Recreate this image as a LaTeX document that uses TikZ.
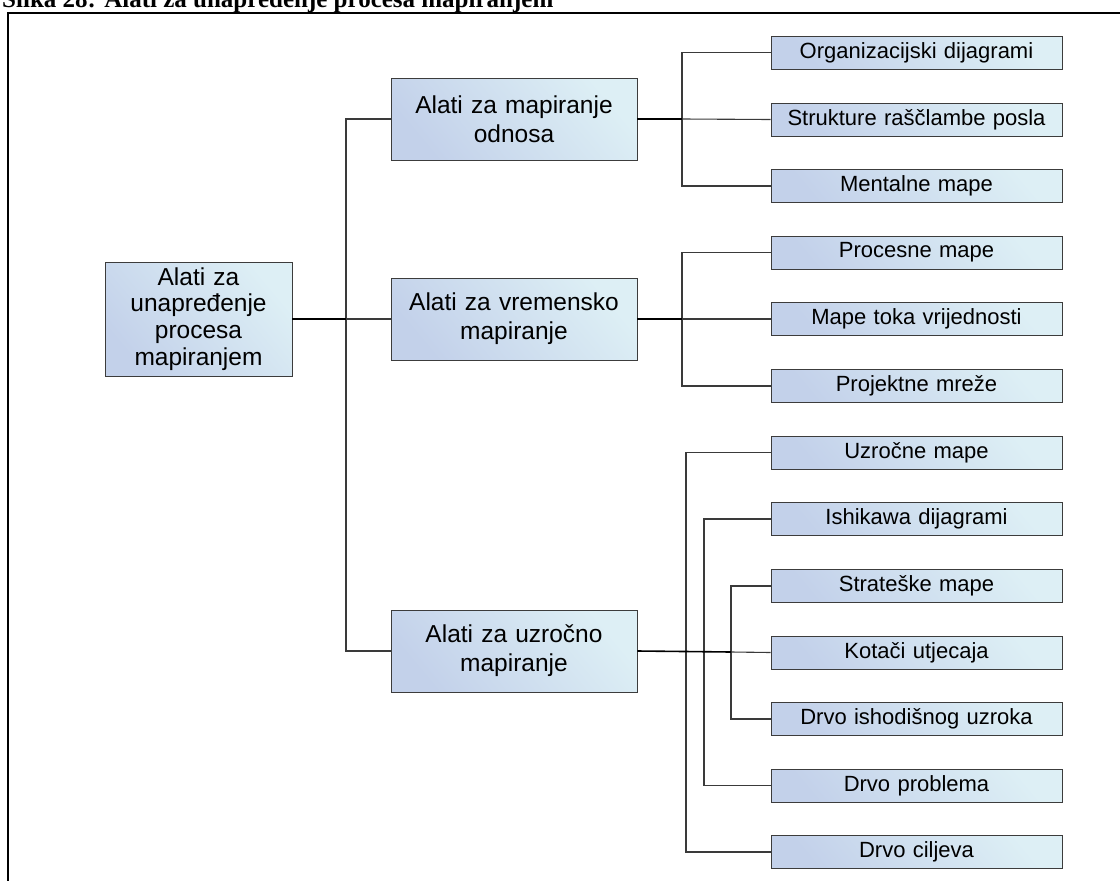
\documentclass[tikz,border=0pt]{standalone}
\usepackage{fontspec}
\setmainfont{Liberation Serif}
\newfontfamily\boxfont{Liberation Sans}
\usetikzlibrary{positioning}
\definecolor{boxtop}{HTML}{DDEFF5}
\definecolor{boxmiddle}{HTML}{D3E5F0}
\definecolor{boxbottom}{HTML}{C3D1EA}
\definecolor{boxline}{HTML}{3C3C3C}
\definecolor{wire}{HTML}{3A3A3A}

\begin{document}
\begin{tikzpicture}[x=1pt, y=-1pt,
  box/.style={draw=boxline, line width=0.9pt, top color=boxtop, middle color=boxmiddle,
    bottom color=boxbottom, shading angle=-50, align=center, inner sep=0pt},
  rootbox/.style={box, minimum width=187pt, minimum height=114pt, text width=180pt,
    font=\boxfont\fontsize{24.5}{26.7}\selectfont},
  midbox/.style={box, minimum width=246pt, minimum height=82pt, text width=240pt,
    font=\boxfont\fontsize{24.5}{29}\selectfont},
  leafbox/.style={box, minimum width=291pt, minimum height=33pt, text width=285pt,
    font=\boxfont\fontsize{22}{24}\selectfont},
  main/.style={draw=black, line width=1.6pt},
  branch/.style={draw=wire, line width=1.1pt},
  frame/.style={draw=black, line width=2.6pt}
]
\useasboundingbox (0,0) rectangle (1120,881);
% title and frame
\node[anchor=base west, inner sep=0pt, font=\bfseries\fontsize{25}{28}\selectfont] (title) at (2,7)
  {Slika 28: Alati za unapređenje procesa mapiranjem};
\draw[frame] (8,890) -- (8,13) -- (1130,13);

% boxes
\node[rootbox] (root) at (198.5,319) {Alati za\\ unapređenje\\ procesa\\ mapiranjem};
\node[midbox] (odnos) at (514,119) {Alati za mapiranje\\ odnosa};
\node[midbox] (vrijeme) at (514,319) {Alati za vremensko\\ mapiranje};
\node[midbox] (uzrok) at (514,651) {Alati za uzročno\\ mapiranje};

\node[leafbox] (org) at (916.5,52.5) {Organizacijski dijagrami};
\node[leafbox] (wbs) at (916.5,119.5) {Strukture raščlambe posla};
\node[leafbox] (mental) at (916.5,186) {Mentalne mape};

\node[leafbox] (procesne) at (916.5,252.5) {Procesne mape};
\node[leafbox] (vsm) at (916.5,319) {Mape toka vrijednosti};
\node[leafbox] (mreze) at (916.5,386) {Projektne mreže};

\node[leafbox] (uzrmape) at (916.5,452.5) {Uzročne mape};
\node[leafbox] (ishikawa) at (916.5,519) {Ishikawa dijagrami};
\node[leafbox] (strateske) at (916.5,586) {Strateške mape};
\node[leafbox] (kotaci) at (916.5,652.5) {Kotači utjecaja};
\node[leafbox] (ishod) at (916.5,719) {Drvo ishodišnog uzroka};
\node[leafbox] (problem) at (916.5,785.5) {Drvo problema};
\node[leafbox] (ciljevi) at (916.5,852) {Drvo ciljeva};

% junctions
\coordinate (jroot) at (346,319);
\coordinate (jodnos) at (682,119);
\coordinate (jvrijeme) at (682,319);
\coordinate (jouter) at (686,652);
\coordinate (jmid) at (704,652);
\coordinate (jinner) at (731,652);

% connectors
\draw[branch] (odnos.west) -| (jroot) |- (uzrok.west);
\draw[branch] (jroot) -- (vrijeme.west);
\draw[main] (root.east) -- (jroot);

\draw[branch] (org.west) -| (jodnos) |- (mental.west);
\draw[branch] (jodnos) -- (wbs.west);
\draw[main] (odnos.east) -- (jodnos);

\draw[branch] (procesne.west) -| (jvrijeme) |- (mreze.west);
\draw[branch] (jvrijeme) -- (vsm.west);
\draw[main] (vrijeme.east) -- (jvrijeme);

\draw[branch] (uzrmape.west) -| (jouter) |- (ciljevi.west);
\draw[branch] (ishikawa.west) -| (jmid) |- (problem.west);
\draw[branch] (strateske.west) -| (jinner) |- (ishod.west);
\draw[branch] (jinner) -- (kotaci.west);
\draw[main] (uzrok.east) -- (jinner);
\end{tikzpicture}
\end{document}
